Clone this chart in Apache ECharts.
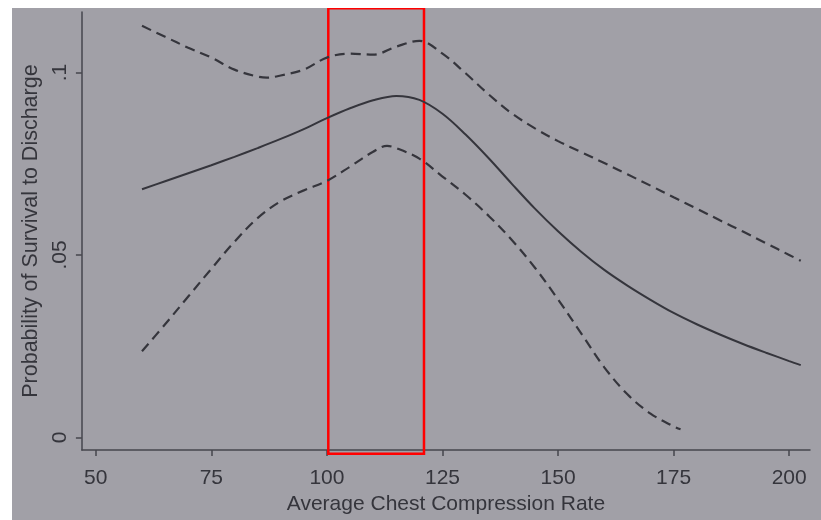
<!DOCTYPE html>
<html>
<head>
<meta charset="utf-8">
<script src="https://cdn.jsdelivr.net/npm/echarts@6/dist/echarts.min.js"></script>
<style>
  html, body { margin: 0; padding: 0; background: #ffffff; }
  #chart { position: absolute; left: 12px; top: 8px; width: 809px; height: 512px; }
</style>
</head>
<body>
<div id="chart"></div>
<script>
// compression rate (x) and fitted probability with 95% band
const rateFit = [60, 65, 70, 75, 80, 85, 90, 95, 100, 105, 110, 115, 120, 125, 130, 135, 140, 145, 150, 155, 160, 165, 170, 175, 180, 185, 190, 195, 200, 202.5]
const probFit = [0.068, 0.0702, 0.0724, 0.0746, 0.0769, 0.0793, 0.0818, 0.0845, 0.0875, 0.0902, 0.0924, 0.0936, 0.0925, 0.0887, 0.083, 0.0765, 0.0695, 0.0627, 0.0565, 0.0509, 0.0459, 0.0416, 0.0377, 0.0341, 0.031, 0.0282, 0.0256, 0.0232, 0.0209, 0.0198]

const rateUpper = [60, 65, 70, 75, 80, 85, 87, 90, 95, 100, 105, 110, 115, 120, 125, 130, 135, 140, 145, 150, 155, 160, 165, 170, 175, 180, 185, 190, 195, 200, 202.5]
const probUpper = [0.1128, 0.1098, 0.1068, 0.1041, 0.1008, 0.0989, 0.0986, 0.0992, 0.1008, 0.1041, 0.1052, 0.1049, 0.1071, 0.1087, 0.1052, 0.0998, 0.094, 0.0888, 0.0847, 0.0812, 0.0782, 0.0752, 0.0721, 0.069, 0.0658, 0.0627, 0.0595, 0.0564, 0.0532, 0.05, 0.0484]

const rateLower = [60, 65, 70, 75, 80, 85, 90, 95, 100, 105, 110, 113, 115, 120, 125, 130, 135, 140, 145, 150, 155, 160, 165, 170, 175, 176.5]
const probLower = [0.0236, 0.031, 0.0386, 0.0462, 0.0536, 0.0601, 0.0647, 0.0677, 0.0703, 0.0742, 0.0783, 0.0799, 0.0793, 0.0764, 0.0715, 0.0665, 0.0607, 0.0541, 0.0465, 0.0378, 0.0285, 0.0192, 0.0118, 0.0065, 0.003, 0.0022]

const xTicks = [50, 75, 100, 125, 150, 175, 200]
const yTicks = [0, 0.05, 0.1]
const yTickText = { 0: '0', 0.05: '.05', 0.1: '.1' }

// highlighted rate range (red box): x from..to, y from..to
const boxRate = [100.3, 121]
const boxProb = [-0.0045, 0.1176]

const INK = '#35353c'
const AXIS = '#46464e'
const FONT = 'Liberation Sans, Arial, sans-serif'

const pairs = (xs, ys) => xs.map((x, i) => [x, ys[i]])

const chart = echarts.init(document.getElementById('chart'), null, { renderer: 'canvas' })

const bandLine = { color: INK, width: 2.2, type: [10, 6] }

chart.setOption({
  backgroundColor: '#a1a0a7',
  animation: false,
  grid: { left: 68, top: 4, right: 11, bottom: 66 },
  xAxis: {
    type: 'value',
    min: 47,
    max: 204.5,
    name: 'Average Chest Compression Rate',
    nameLocation: 'middle',
    nameGap: 35,
    nameTextStyle: { color: INK, fontSize: 21, fontFamily: FONT },
    splitLine: { show: false },
    axisLine: { onZero: false, lineStyle: { color: AXIS, width: 1.5 } },
    axisTick: { length: 6, customValues: xTicks, lineStyle: { color: AXIS, width: 1.5 } },
    axisLabel: { customValues: xTicks, margin: 18, color: INK, fontSize: 21, fontFamily: FONT },
  },
  yAxis: {
    type: 'value',
    min: -0.0035,
    max: 0.1166,
    name: 'Probability of Survival to Discharge',
    nameLocation: 'middle',
    nameGap: 36,
    nameTextStyle: { color: INK, fontSize: 21.5, fontFamily: FONT },
    splitLine: { show: false },
    axisLine: { show: true, onZero: false, lineStyle: { color: AXIS, width: 1.5 } },
    axisTick: { show: true, length: 6, customValues: yTicks, lineStyle: { color: AXIS, width: 1.5 } },
    axisLabel: {
      customValues: yTicks,
      rotate: 90,
      margin: 11,
      color: INK,
      fontSize: 21,
      fontFamily: FONT,
      formatter: v => yTickText[v] ?? String(v),
    },
  },
  series: [
    {
      type: 'line',
      data: pairs(rateUpper, probUpper),
      smooth: 0.35,
      showSymbol: false,
      lineStyle: bandLine,
    },
    {
      type: 'line',
      data: pairs(rateFit, probFit),
      smooth: 0.35,
      showSymbol: false,
      lineStyle: { color: INK, width: 2 },
    },
    {
      type: 'line',
      data: pairs(rateLower, probLower),
      smooth: 0.35,
      showSymbol: false,
      lineStyle: bandLine,
    },
    {
      type: 'custom',
      clip: false,
      silent: true,
      data: [[boxRate[0], boxRate[1], boxProb[0], boxProb[1]]],
      encode: { x: [0, 1], y: [2, 3] },
      renderItem: (params, api) => {
        const a = api.coord([api.value(0), api.value(3)])
        const b = api.coord([api.value(1), api.value(2)])
        return {
          type: 'rect',
          shape: { x: a[0], y: a[1], width: b[0] - a[0], height: b[1] - a[1] },
          style: { fill: 'transparent', stroke: '#ff0000', lineWidth: 2.5 },
        }
      },
    },
  ],
})
</script>
</body>
</html>
